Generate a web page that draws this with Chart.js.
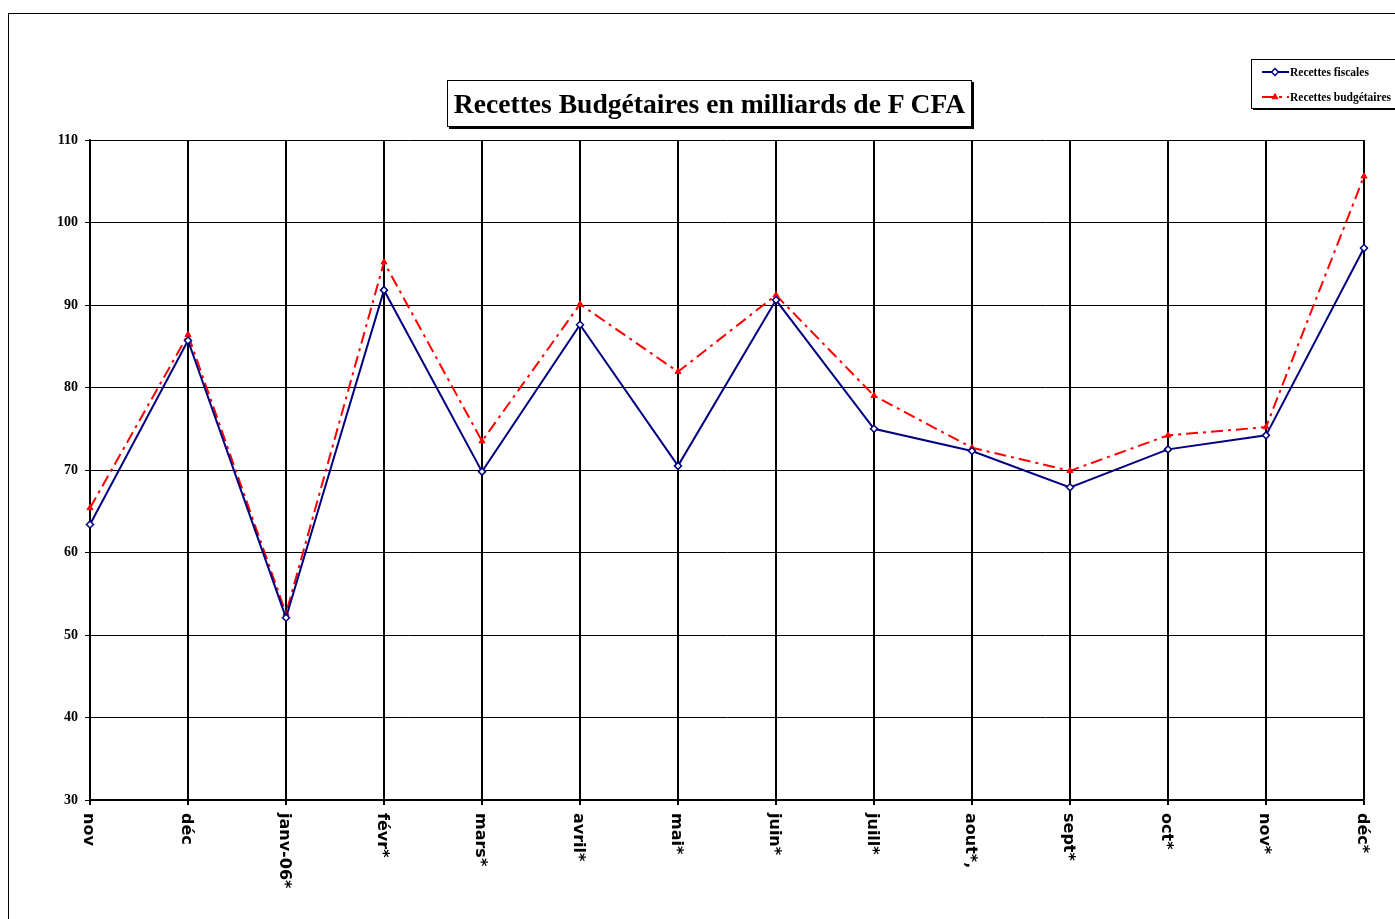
<!DOCTYPE html>
<html><head><meta charset="utf-8">
<script src="https://cdn.jsdelivr.net/npm/chart.js@4"></script>
<style>
html,body{margin:0;padding:0;background:#fff;}
#wrap{position:relative;width:1395px;height:919px;overflow:hidden;background:#fff;}
#frame{position:absolute;left:8px;top:13px;width:2000px;height:2000px;border-left:1px solid #000;border-top:1px solid #000;}
#title{position:absolute;left:447px;top:80px;width:523px;height:45px;border:1px solid #000;box-shadow:2px 2px 0 #000;background:#fff;font:bold 27.6px "Liberation Serif","Times New Roman",serif;text-align:center;line-height:46px;white-space:nowrap;z-index:2;}
canvas{position:absolute;left:0;top:0;z-index:1;}
</style></head>
<body><div id="wrap"><div id="frame"></div>
<canvas id="c" width="1395" height="919"></canvas>
<div id="title">Recettes Budgétaires en milliards de F CFA</div>
</div>
<script>
const categories = ['nov','déc','janv-06*','févr*','mars*','avril*','mai*','juin*','juill*','aout*,','sept*','oct*','nov*','déc*'];
const recettesFiscales = [63.4,85.7,52.1,91.8,69.8,87.6,70.5,90.6,75.0,72.3,67.9,72.5,74.2,96.9];
const recettesBudgetaires = [65.4,86.4,52.6,95.2,73.5,90.1,81.9,91.2,79.0,72.7,69.9,74.2,75.2,105.6];
const yTicks = {min:30, max:110, step:10};
const seriesNames = ['Recettes fiscales','Recettes budgétaires'];

const DASH = [12,5,3,5];

const xLabelPlugin = {
  id:'xLabels',
  afterDraw(chart){
    const ctx = chart.ctx, xs = chart.scales.x;
    ctx.save();
    ctx.font = 'bold 16px "DejaVu Sans", Verdana, sans-serif';
    ctx.fillStyle = '#000';
    ctx.textAlign = 'left';
    ctx.textBaseline = 'middle';
    chart.data.labels.forEach((lab,i)=>{
      const x = xs.getPixelForValue(i);
      ctx.save();
      ctx.translate(x-2, xs.top + 13);
      ctx.rotate(Math.PI/2);
      ctx.fillText(lab,0,0);
      ctx.restore();
    });
    ctx.restore();
  }
};

const legendPlugin = {
  id:'customLegend',
  afterDraw(chart){
    const ctx = chart.ctx;
    ctx.save();
    const bx=1251, by=59, bw=200, bh=49;
    ctx.fillStyle='#000';
    ctx.fillRect(bx+2,by+2,bw,bh);
    ctx.fillStyle='#fff';
    ctx.fillRect(bx,by,bw,bh);
    ctx.strokeStyle='#000'; ctx.lineWidth=1;
    ctx.strokeRect(bx+0.5,by+0.5,bw,bh);
    chart.data.datasets.forEach((ds,i)=>{
      const y = 72 + 25*i;
      ctx.save();
      ctx.strokeStyle = ds.borderColor;
      ctx.lineWidth = 2;
      ctx.setLineDash(ds.borderDash || []);
      ctx.beginPath(); ctx.moveTo(1262,y); ctx.lineTo(1289,y); ctx.stroke();
      ctx.setLineDash([]);
      ctx.fillStyle = ds.pointBackgroundColor;
      ctx.strokeStyle = ds.pointBorderColor;
      ctx.lineWidth = ds.pointBorderWidth;
      Chart.helpers.drawPoint(ctx,{pointStyle:ds.pointStyle,radius:ds.pointRadius,rotation:0,borderWidth:ds.pointBorderWidth},1275,y);
      ctx.restore();
      ctx.fillStyle='#000';
      ctx.font='bold 11.5px "Liberation Serif","Times New Roman",serif';
      ctx.textAlign='left'; ctx.textBaseline='middle';
      ctx.fillText(ds.label,1290,y+1);
    });
    ctx.restore();
  }
};

new Chart(document.getElementById('c'),{
  type:'line',
  data:{
    labels:categories,
    datasets:[
      {label:seriesNames[0],data:recettesFiscales,borderColor:'#000080',borderWidth:2,
       pointStyle:'rectRot',pointRadius:3.5,pointBackgroundColor:'#ffffff',pointBorderColor:'#000080',pointBorderWidth:1.5,
       tension:0,clip:false},
      {label:seriesNames[1],data:recettesBudgetaires,borderColor:'#ff0000',borderWidth:2,borderDash:DASH,
       pointStyle:'triangle',pointRadius:3.5,pointBackgroundColor:'#ff0000',pointBorderColor:'#ff0000',pointBorderWidth:1,
       tension:0,clip:false}
    ]
  },
  options:{
    responsive:false,animation:false,devicePixelRatio:1,
    layout:{padding:{top:140,right:31,left:0,bottom:0}},
    plugins:{legend:{display:false},title:{display:false},tooltip:{enabled:false}},
    scales:{
      x:{type:'category',offset:false,
        grid:{color:'#000',lineWidth:2,drawTicks:true,tickLength:5,tickColor:'#000'},
        border:{color:'#000',width:1.5},
        ticks:{display:false},
        afterFit(s){s.height=119;}
      },
      y:{min:yTicks.min,max:yTicks.max,
        grid:{color:'#000',lineWidth:1,drawTicks:true,tickLength:5,tickColor:'#000'},
        border:{color:'#000',width:1.5},
        ticks:{stepSize:yTicks.step,padding:7,color:'#000',font:{family:'"Liberation Serif"',weight:'bold',size:14}},
        afterFit(s){s.width=90;}
      }
    }
  },
  plugins:[xLabelPlugin,legendPlugin]
});
</script>
</body></html>
